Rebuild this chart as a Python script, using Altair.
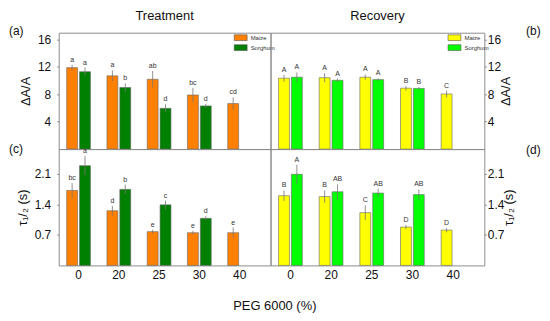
import altair as alt
import pandas as pd

peg = ['0', '20', '25', '30', '40']
species = ['Maize', 'Sorghum']

# Panel (a): Treatment, ΔA/A
a_maize = [11.9, 10.7, 10.2, 7.9, 6.65]
a_maize_err = [0.4, 0.8, 1.2, 1.05, 0.9]
a_maize_let = ['a', 'a', 'ab', 'bc', 'cd']
a_sorg = [11.3, 9.0, 5.95, 6.3]
a_sorg_err = [0.6, 0.6, 0.6, 0.3]
a_sorg_let = ['a', 'b', 'd', 'd']

# Panel (b): Recovery, ΔA/A
b_maize = [10.35, 10.43, 10.5, 8.9, 8.05]
b_maize_err = [0.5, 0.65, 0.4, 0.35, 0.5]
b_maize_let = ['A', 'A', 'A', 'B', 'C']
b_sorg = [10.5, 10.05, 10.15, 8.86]
b_sorg_err = [0.7, 0.25, 0.2, 0.2]
b_sorg_let = ['A', 'A', 'A', 'B']

# Panel (c): Treatment, tau 1/2
c_maize = [1.72, 1.255, 0.775, 0.75, 0.75]
c_maize_err = [0.17, 0.11, 0.045, 0.045, 0.12]
c_maize_let = ['bc', 'd', 'e', 'e', 'e']
c_sorg = [2.29, 1.745, 1.39, 1.08]
c_sorg_err = [0.22, 0.11, 0.1, 0.05]
c_sorg_let = ['a', 'b', 'c', 'd']

# Panel (d): Recovery, tau 1/2
d_maize = [1.60, 1.58, 1.21, 0.88, 0.81]
d_maize_err = [0.12, 0.14, 0.17, 0.05, 0.05]
d_maize_let = ['B', 'B', 'C', 'D', 'D']
d_sorg = [2.09, 1.69, 1.66, 1.625]
d_sorg_err = [0.22, 0.17, 0.1, 0.12]
d_sorg_let = ['A', 'AB', 'AB', 'AB']

treat_colors = ['#FF8000', '#008000']
recov_colors = ['#FFFF00', '#00FF00']

FONT = 'Liberation Sans'
PANEL_H = 117


def build(m, me, ml, s, se, sl):
    rows = []
    for i, p in enumerate(peg):
        rows.append(dict(peg=p, species='Maize', val=m[i], lo=m[i] - me[i],
                         hi=m[i] + me[i], let=ml[i]))
        if i < len(s):
            rows.append(dict(peg=p, species='Sorghum', val=s[i], lo=s[i] - se[i],
                             hi=s[i] + se[i], let=sl[i]))
    return pd.DataFrame(rows)


def panel(df, colors, ydom, yvals, yfmt, ytitle, orient, bottom, show_legend, tag, tagx,
          tagy, width, title=''):
    xscale = alt.Scale(domain=peg, paddingInner=0.41, paddingOuter=0.335, align=0.295)
    if bottom:
        xaxis = alt.Axis(labelAngle=0, ticks=False, domain=False, labelFontSize=12,
                         labelPadding=4, labelColor='#111', labelFont=FONT)
    else:
        xaxis = None
    x = alt.X('peg:N', scale=xscale, axis=xaxis, title=None)
    xo = alt.XOffset('species:N', scale=alt.Scale(domain=species, paddingInner=0.154,
                                                   paddingOuter=0))
    yscale = alt.Scale(domain=ydom, nice=False, zero=True)
    yaxis = alt.Axis(orient=orient, values=yvals, format=yfmt, tickSize=2, domain=False,
                     grid=False, labelOverlap=False, labelFontSize=12,
                     labelPadding=(6 if orient == 'left' else 1),
                     labelColor='#111', tickColor='#888', titleAngle=270,
                     titleFontSize=13, titleFontWeight='normal', titleColor='#111',
                     titlePadding=(5 if orient == 'left' else 12), labelFont=FONT,
                     titleFont=FONT)
    y = alt.Y('val:Q', scale=yscale, axis=yaxis, title=ytitle)
    if show_legend:
        leg = alt.Legend(title=None, orient='none', legendX=width - 34, legendY=1,
                         symbolType='M-2,-0.9H2V0.9H-2Z', symbolSize=42,
                         symbolStrokeColor='#555', symbolStrokeWidth=0.6,
                         labelFontSize=6, labelColor='#333', rowPadding=0,
                         symbolOffset=0, labelOffset=6, padding=0, labelFont=FONT,
                         labelLimit=60)
    else:
        leg = None
    color = alt.Color('species:N', scale=alt.Scale(domain=species, range=colors),
                      legend=leg)
    base = alt.Chart(df)
    bars = base.mark_bar(stroke='#666', strokeWidth=0.6).encode(x=x, xOffset=xo, y=y,
                                                                color=color)
    err = base.mark_rule(color='#777', strokeWidth=0.8).encode(
        x=x, xOffset=xo, y=alt.Y('lo:Q', scale=yscale, axis=yaxis, title=ytitle),
        y2='hi:Q')
    letters = base.mark_text(fontSize=7, dy=-3, baseline='alphabetic', color='#333',
                             font=FONT).encode(
        x=x, xOffset=xo, y=alt.Y('hi:Q', scale=yscale, axis=yaxis, title=ytitle),
        text='let:N')
    tagc = alt.Chart(pd.DataFrame({'t': [tag]})).mark_text(
        fontSize=12, align='left', baseline='middle', color='#111', font=FONT).encode(
        text='t:N', x=alt.value(tagx), y=alt.value(tagy))
    layers = [bars, err, letters, tagc]
    if title:
        ttl = alt.Chart(pd.DataFrame({'t': [title]})).mark_text(
            fontSize=13, align='center', baseline='middle', color='#111',
            font=FONT).encode(text='t:N', x=alt.value(width / 2), y=alt.value(-17))
        layers.append(ttl)
    return alt.layer(*layers).properties(width=width, height=PANEL_H)


pa = panel(build(a_maize, a_maize_err, a_maize_let, a_sorg, a_sorg_err, a_sorg_let),
           treat_colors, [0, 17], [4, 8, 12, 16], 'd', 'ΔA/A', 'left', False, True,
           '(a)', -50, -2, 213, 'Treatment')
pb = panel(build(b_maize, b_maize_err, b_maize_let, b_sorg, b_sorg_err, b_sorg_let),
           recov_colors, [0, 17], [4, 8, 12, 16], 'd', 'ΔA/A', 'right', False, True,
           '(b)', 257, -2, 215, 'Recovery')
pc = panel(build(c_maize, c_maize_err, c_maize_let, c_sorg, c_sorg_err, c_sorg_let),
           treat_colors, [0, 2.67], [0.7, 1.4, 2.1], '.1f', 'τ₁/₂ (s)', 'left', True,
           False, '(c)', -50, 0, 213)
pd_ = panel(build(d_maize, d_maize_err, d_maize_let, d_sorg, d_sorg_err, d_sorg_let),
            recov_colors, [0, 2.67], [0.7, 1.4, 2.1], '.1f', 'τ₁/₂ (s)', 'right', True,
            False, '(d)', 257, 1, 215)

chart = alt.concat(pa, pb, pc, pd_, columns=2, spacing=0, bounds='flush').resolve_scale(
    color='independent', y='independent', x='independent'
).properties(
    title=alt.TitleParams('PEG 6000 (%)', orient='bottom', anchor='middle', fontSize=13,
                          fontWeight='normal', font=FONT, color='#111', offset=19),
    padding=0,
    background='white'
).configure_view(stroke='#8c8c8c', strokeWidth=1)

chart.save('out.html', embed_options={'renderer': 'svg', 'actions': False})
